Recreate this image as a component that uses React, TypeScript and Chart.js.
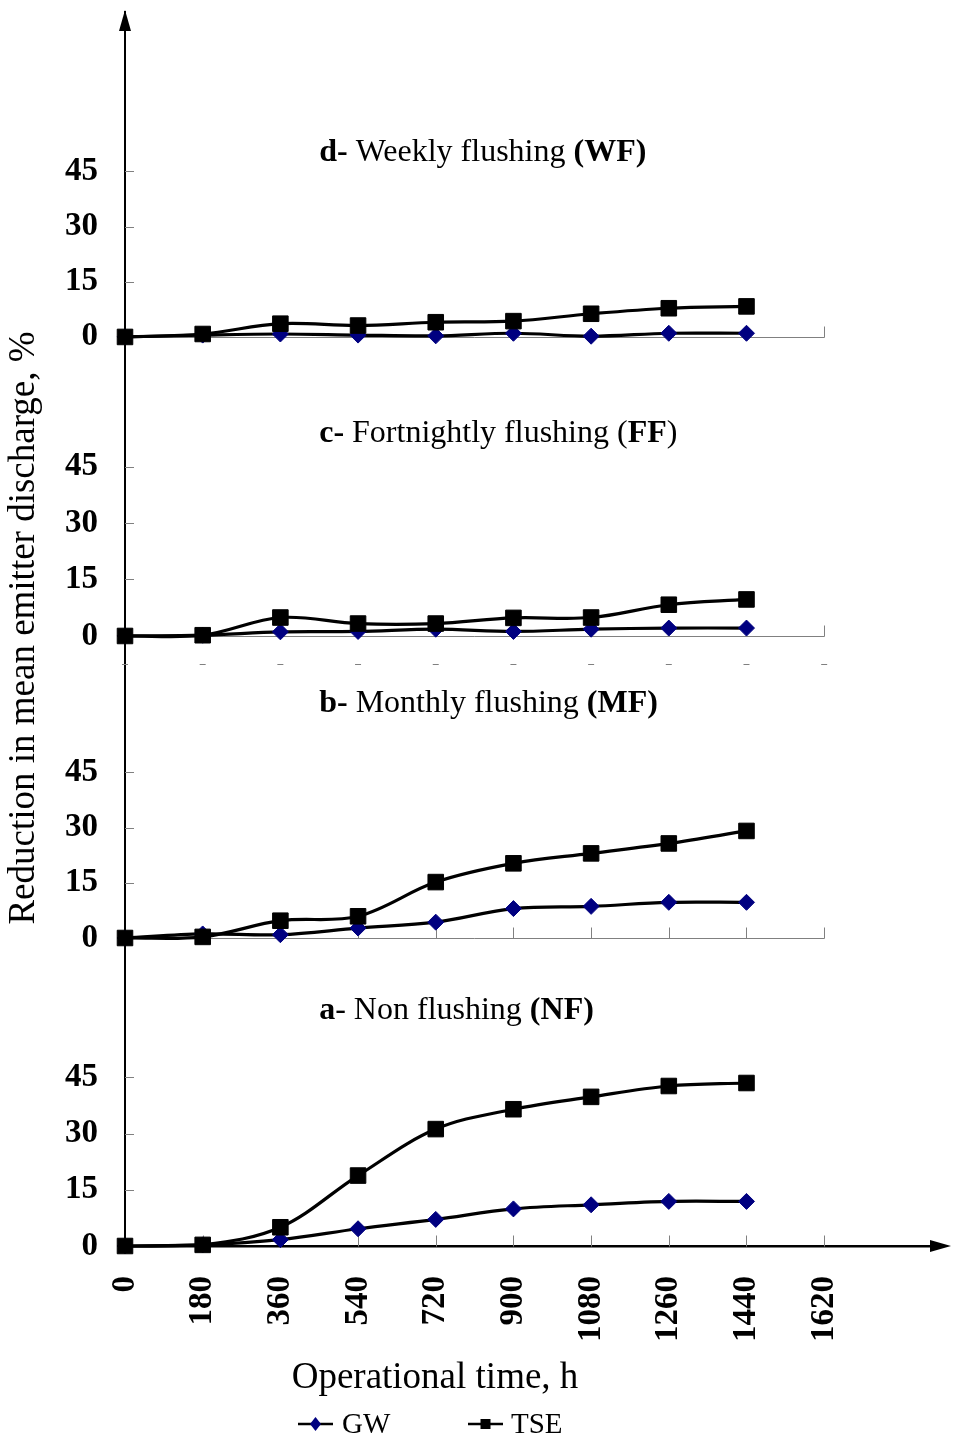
import React, { useEffect, useRef } from 'react';
import { Chart, registerables } from 'chart.js';

Chart.register(...registerables);

// ---------- data ----------
const hours = [0, 180, 360, 540, 720, 900, 1080, 1260, 1440];
const xTickValues = [0, 180, 360, 540, 720, 900, 1080, 1260, 1440, 1620];
const yTickValues = [0, 15, 30, 45];

// a- Non flushing (NF)
const nfGW = [0, 0.3, 1.7, 4.6, 7.1, 9.9, 11.0, 11.9, 11.9];
const nfTSE = [0, 0.3, 5.0, 18.8, 31.2, 36.5, 39.8, 42.7, 43.5];
// b- Monthly flushing (MF)
const mfGW = [0, 1.1, 0.9, 2.7, 4.3, 8.0, 8.6, 9.7, 9.7];
const mfTSE = [0, 0.3, 4.7, 5.9, 15.2, 20.3, 23.0, 25.7, 29.1];
// c- Fortnightly flushing (FF)
const ffGW = [0, 0.2, 1.1, 1.2, 1.8, 1.2, 1.8, 2.1, 2.1];
const ffTSE = [0, 0.2, 4.9, 3.3, 3.3, 4.8, 4.9, 8.3, 9.7];
// d- Weekly flushing (WF)
const wfGW = [0, 0.5, 0.8, 0.5, 0.3, 1.0, 0.2, 1.0, 1.0];
const wfTSE = [0, 0.8, 3.6, 3.1, 4.0, 4.3, 6.3, 7.8, 8.3];

const seriesGW = 'GW';
const seriesTSE = 'TSE';
const xTitle = 'Operational time, h';
const yTitle = 'Reduction in mean emitter discharge, %';

type Seg = [string, boolean];
const titleNF: Seg[] = [['a', true], ['- Non flushing ', false], ['(NF)', true]];
const titleMF: Seg[] = [['b-', true], [' Monthly flushing ', false], ['(MF)', true]];
const titleFF: Seg[] = [['c-', true], [' Fortnightly flushing (', false], ['FF', true], [')', false]];
const titleWF: Seg[] = [['d-', true], [' Weekly flushing ', false], ['(WF)', true]];

// ---------- layout / style ----------
const FONT = '"Liberation Serif", "Times New Roman", serif';
const GW_COLOR = '#000080';
const GRAY = '#808080';

const panels = [
  { id: 'ya', gw: nfGW, tse: nfTSE, max: 82.2, weight: 309, title: titleNF, titleAt: 62.8, ticksAll: true, baseline: false, dashesAt: null as number | null },
  { id: 'yb', gw: mfGW, tse: mfTSE, max: 82.1, weight: 303, title: titleMF, titleAt: 63.7, ticksAll: true, baseline: true, dashesAt: 74.5 },
  { id: 'yc', gw: ffGW, tse: ffTSE, max: 79.4, weight: 300, title: titleFF, titleAt: 53.7, ticksAll: false, baseline: true, dashesAt: null },
  { id: 'yd', gw: wfGW, tse: wfTSE, max: 88.3, weight: 326, title: titleWF, titleAt: 50.1, ticksAll: false, baseline: true, dashesAt: null },
];

const X_MAX = 1893;
const TITLE_X_HOURS = 450;

function line(ctx: CanvasRenderingContext2D, x1: number, y1: number, x2: number, y2: number) {
  ctx.beginPath();
  ctx.moveTo(x1, y1);
  ctx.lineTo(x2, y2);
  ctx.stroke();
}

const decorPlugin = {
  id: 'decor',
  beforeDatasetsDraw(chart: any) {
    const { ctx, scales } = chart;
    const xs = scales.x;
    ctx.save();
    ctx.strokeStyle = GRAY;
    ctx.lineWidth = 1;
    panels.forEach((p) => {
      const ys = scales[p.id];
      const y0 = Math.round(ys.getPixelForValue(0)) + 0.5;
      const xl = xs.getPixelForValue(0);
      const xr = Math.round(xs.getPixelForValue(1620)) + 0.5;
      if (p.baseline) line(ctx, xl, y0, xr, y0);
      const tickXs = p.ticksAll ? xTickValues.slice(1) : [1620];
      tickXs.forEach((v) => {
        const px = Math.round(xs.getPixelForValue(v)) + 0.5;
        line(ctx, px, y0, px, y0 - 11);
      });
      yTickValues.slice(1).forEach((v) => {
        const py = Math.round(ys.getPixelForValue(v)) + 0.5;
        line(ctx, xl, py, xl + 9, py);
      });
      if (p.dashesAt !== null) {
        const py = Math.round(ys.getPixelForValue(p.dashesAt)) + 0.5;
        xTickValues.forEach((v) => {
          const px = xs.getPixelForValue(v);
          line(ctx, px - 3, py, px + 3, py);
        });
      }
    });
    ctx.restore();
  },
  afterDraw(chart: any) {
    const { ctx, scales, chartArea } = chart;
    const xs = scales.x;
    ctx.save();
    // arrows
    ctx.fillStyle = '#000';
    const ax = chartArea.left;
    ctx.beginPath();
    ctx.moveTo(ax, chartArea.top - 2);
    ctx.lineTo(ax - 6, chartArea.top + 19);
    ctx.lineTo(ax + 6, chartArea.top + 19);
    ctx.closePath();
    ctx.fill();
    const ay = chartArea.bottom;
    ctx.beginPath();
    ctx.moveTo(chartArea.right + 9, ay);
    ctx.lineTo(chartArea.right - 12, ay - 6);
    ctx.lineTo(chartArea.right - 12, ay + 6);
    ctx.closePath();
    ctx.fill();

    // panel titles
    ctx.textBaseline = 'middle';
    ctx.textAlign = 'left';
    panels.forEach((p) => {
      const ys = scales[p.id];
      let x = xs.getPixelForValue(TITLE_X_HOURS);
      const y = ys.getPixelForValue(p.titleAt);
      p.title.forEach(([t, bold]) => {
        ctx.font = `${bold ? 'bold ' : ''}32px ${FONT}`;
        ctx.fillText(t, x, y);
        x += ctx.measureText(t).width;
      });
    });

    // y axis title
    ctx.save();
    ctx.translate(24, 628);
    ctx.rotate(-Math.PI / 2);
    ctx.textAlign = 'center';
    ctx.font = `37px ${FONT}`;
    ctx.fillText(yTitle, 0, 0);
    ctx.restore();

    // x axis title
    ctx.textAlign = 'center';
    ctx.font = `37px ${FONT}`;
    ctx.fillText(xTitle, 435, 1378);

    // legend
    const ly = 1424;
    ctx.textAlign = 'left';
    ctx.font = `29px ${FONT}`;
    ctx.strokeStyle = '#000';
    ctx.lineWidth = 2.5;
    // GW
    line(ctx, 298, ly, 333, ly);
    ctx.fillStyle = GW_COLOR;
    ctx.beginPath();
    ctx.moveTo(315.5, ly - 7);
    ctx.lineTo(321, ly);
    ctx.lineTo(315.5, ly + 7);
    ctx.lineTo(310, ly);
    ctx.closePath();
    ctx.fill();
    ctx.fillStyle = '#000';
    ctx.fillText(seriesGW, 342, ly + 1);
    // TSE
    line(ctx, 468, ly, 503, ly);
    ctx.fillRect(480.5, ly - 5, 10, 10);
    ctx.fillText(seriesTSE, 511, ly + 1);
    ctx.restore();
  },
};

export default function App() {
  const ref = useRef<HTMLCanvasElement | null>(null);

  useEffect(() => {
    if (!ref.current) return;
    const datasets: any[] = [];
    panels.forEach((p) => {
      datasets.push({
        label: seriesTSE,
        data: hours.map((h, i) => ({ x: h, y: p.tse[i] })),
        xAxisID: 'x',
        yAxisID: p.id,
        borderColor: '#000',
        borderWidth: 3.2,
        pointStyle: 'rect',
        pointRadius: 11,
        pointBackgroundColor: '#000',
        pointBorderColor: '#000',
        pointBorderWidth: 1,
        tension: 0.35,
        clip: false,
      });
      datasets.push({
        label: seriesGW,
        data: hours.map((h, i) => ({ x: h, y: p.gw[i] })),
        xAxisID: 'x',
        yAxisID: p.id,
        borderColor: '#000',
        borderWidth: 3.2,
        pointStyle: 'rectRot',
        pointRadius: 8,
        pointBackgroundColor: GW_COLOR,
        pointBorderColor: GW_COLOR,
        pointBorderWidth: 1,
        tension: 0.35,
        clip: false,
      });
    });

    const scales: any = {
      x: {
        type: 'linear',
        position: 'bottom',
        min: 0,
        max: X_MAX,
        afterBuildTicks: (s: any) => {
          s.ticks = xTickValues.map((v) => ({ value: v }));
        },
        afterFit: (s: any) => {
          s.height = 195;
          s.paddingLeft = 0;
          s.paddingRight = 0;
          s.paddingTop = 0;
          s.paddingBottom = 0;
        },
        ticks: {
          autoSkip: false,
          minRotation: 90,
          maxRotation: 90,
          padding: 22,
          color: '#000',
          font: { family: FONT, size: 33, weight: 'bold' },
          callback: (v: any) => String(v),
        },
        grid: { display: false },
        border: { display: true, color: '#000', width: 2.5 },
      },
    };
    panels.forEach((p) => {
      scales[p.id] = {
        type: 'linear',
        position: 'left',
        stack: 'panels',
        stackWeight: p.weight,
        min: 0,
        max: p.max,
        afterBuildTicks: (s: any) => {
          s.ticks = yTickValues.map((v) => ({ value: v }));
        },
        afterFit: (s: any) => {
          s.width = 125;
          s.paddingLeft = 0;
          s.paddingRight = 0;
          s.paddingTop = 0;
          s.paddingBottom = 0;
        },
        ticks: {
          padding: 19,
          color: '#000',
          font: { family: FONT, size: 33, weight: 'bold' },
          callback: (v: any) => String(v),
        },
        grid: { display: false },
        border: { display: true, color: '#000', width: 2 },
      };
    });

    const chart = new Chart(ref.current, {
      type: 'line',
      data: { datasets },
      options: {
        responsive: false,
        animation: false,
        layout: { padding: { top: 8, right: 10, bottom: 0, left: 0 } },
        plugins: {
          legend: { display: false },
          tooltip: { enabled: false },
        },
        scales,
      },
      plugins: [decorPlugin],
    });
    return () => chart.destroy();
  }, []);

  return (
    <div style={{ position: 'absolute', left: 0, top: 0, width: 954, height: 1441, background: '#fff', overflow: 'hidden' }}>
      <canvas ref={ref} width={954} height={1441} style={{ display: 'block', width: 954, height: 1441 }} />
    </div>
  );
}
